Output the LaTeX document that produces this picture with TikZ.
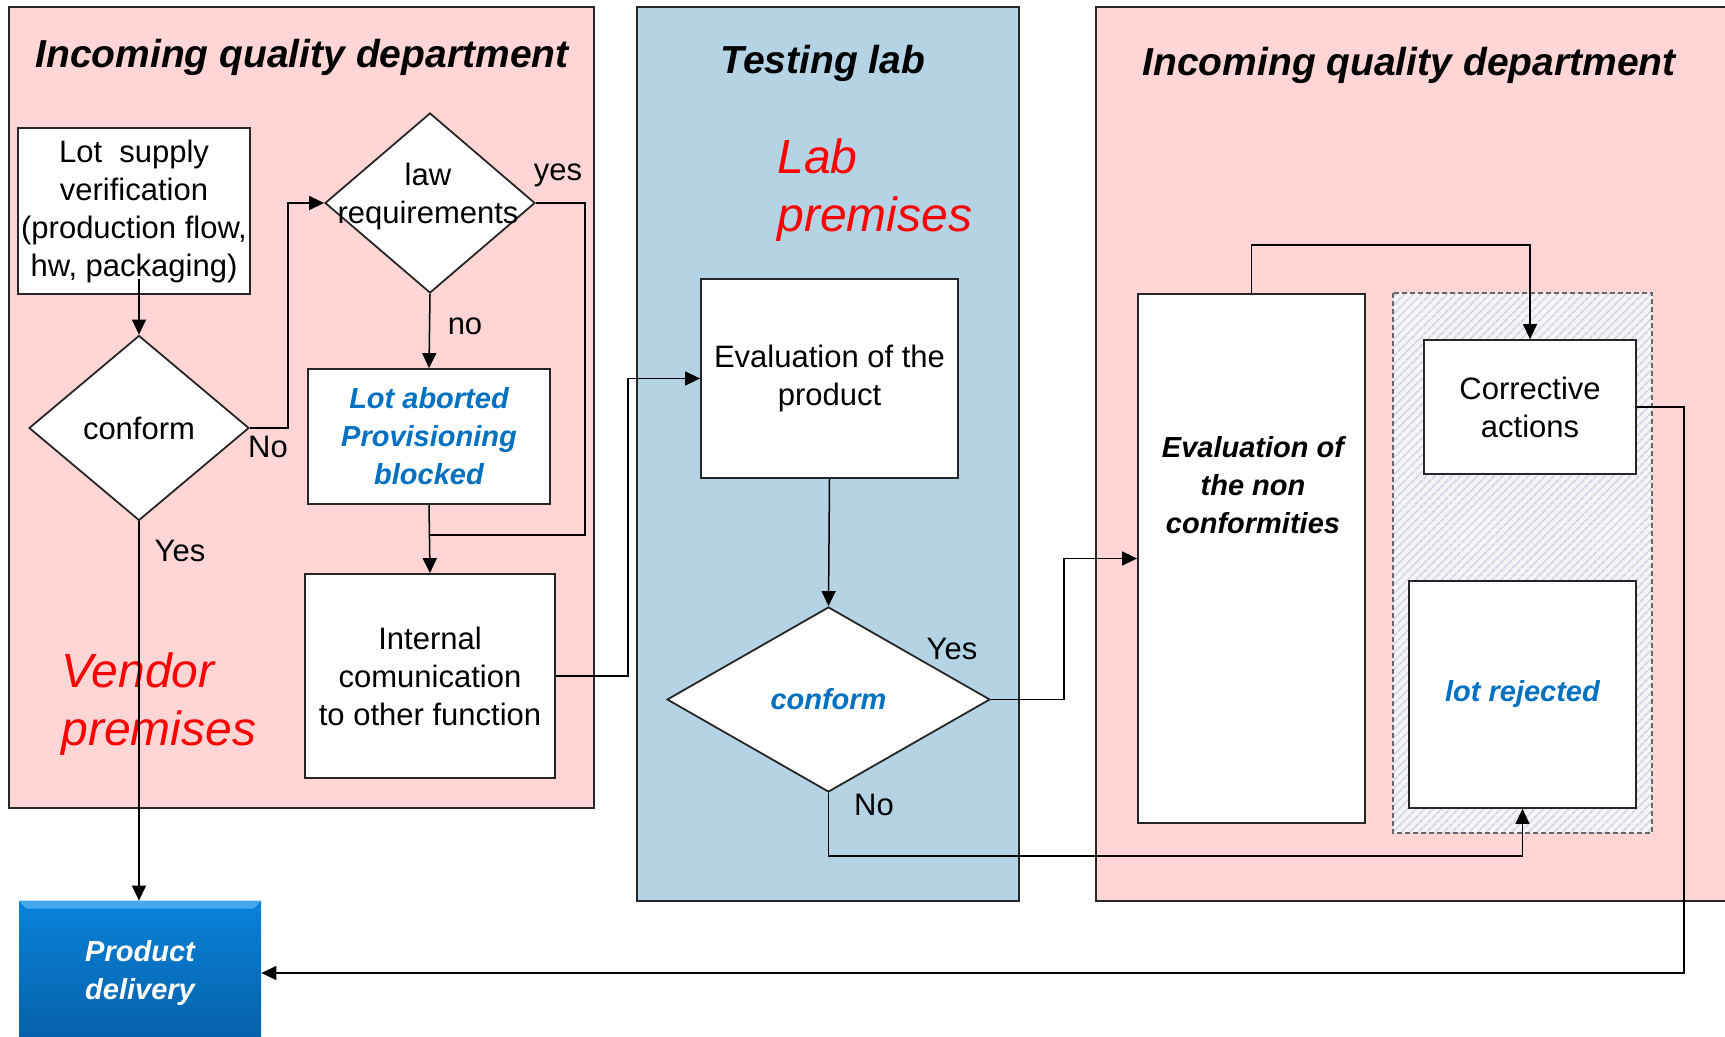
\documentclass[tikz,border=0pt]{standalone}
\usepackage{fontspec}
\setmainfont{Liberation Sans}
\usepackage{tikz}
\usetikzlibrary{arrows.meta,positioning,calc,shapes.geometric,patterns.meta}
\definecolor{cPink}{HTML}{FFD5D5}
\definecolor{cLab}{HTML}{B4D4E6}
\definecolor{cBlue}{HTML}{0070C0}
\definecolor{cHatch}{HTML}{D0D4E4}
\definecolor{cHatchBg}{HTML}{F5F5F8}
\definecolor{cDelTop}{HTML}{0A82DA}
\definecolor{cDelBot}{HTML}{0560A6}
\definecolor{cBevel}{HTML}{45A8EE}
\newcommand{\bodyfont}{\fontsize{15.5}{19}\selectfont}
\newcommand{\headfont}{\fontsize{19.5}{23}\selectfont\bfseries\itshape}
\newcommand{\emfont}{\fontsize{14.5}{19}\selectfont\bfseries\itshape}
\newcommand{\zonefont}{\fontsize{24}{29}\selectfont\itshape}
\tikzset{
  lane/.style={draw=black!85,line width=1pt},
  proc/.style={draw=black!85,fill=white,line width=0.9pt,inner sep=0pt,
               align=center,font=\bodyfont},
  decide/.style={diamond,draw=black!85,fill=white,line width=0.9pt,inner sep=0pt},
  txt/.style={inner sep=0pt,align=center,font=\bodyfont},
  emtxt/.style={inner sep=0pt,align=center,font=\emfont,text=cBlue},
  head/.style={inner sep=0pt,font=\headfont},
  zone/.style={inner sep=0pt,align=left,font=\zonefont,text=red},
  hatchbox/.style={draw=black!60,line width=0.6pt,dash pattern=on 2.5pt off 1.5pt,
               preaction={fill=cHatchBg},
               pattern={Lines[angle=45,distance=3pt,line width=0.8pt]},pattern color=cHatch},
  delivery/.style={top color=cDelTop,bottom color=cDelBot,inner sep=0pt,
               align=center,font=\emfont,text=white},
  flow/.style={-{Triangle[length=7.5pt,width=7pt]},line width=0.75pt},
  link/.style={line width=0.75pt},
}

\begin{document}
\begin{tikzpicture}[x=0.5pt,y=-0.5pt]
  \useasboundingbox (0,0) rectangle (1725,1037);
  \clip (0,0) rectangle (1725,1037);
  \fill[white] (0,0) rectangle (1725,1037);
  % swim lanes
  \draw[lane,fill=cPink] (9,7) rectangle (594,808);
  \draw[lane,fill=cLab] (637,7) rectangle (1019,901);
  \draw[lane,fill=cPink] (1096,7) rectangle (1760,901);
  \node[head] (qtitleA) at (302,57) {Incoming quality department};
  \node[head] (labtitle) at (823,63) {Testing lab};
  \node[head] (qtitleB) at (1409,65) {Incoming quality department};
  \node[zone,anchor=west] (vendor) at (61,704) {Vendor\\premises};
  \node[zone,anchor=west] (labzone) at (777,190) {Lab\\premises};
  \draw[hatchbox] (1393,293) rectangle (1652,833);

  % vendor side
  \node[proc,minimum width=116pt,minimum height=83pt] (lot) at (134,211)
    {Lot~~supply\\verification\\(production flow,\\hw, packaging)};
  \node[decide,minimum width=105pt,minimum height=90pt] (law) at (430,203) {};
  \node[txt] (lawtxt) at (428,196) {law\\requirements};
  \node[decide,minimum width=110pt,minimum height=92.5pt] (chk) at (139,428) {};
  \node[txt] (chktxt) at (chk) {conform};
  \node[proc,font=\emfont,text=cBlue,minimum width=121pt,minimum height=67.5pt]
    (abort) at (429,436.5) {Lot aborted\\Provisioning\\blocked};
  \node[proc,minimum width=125pt,minimum height=102pt] (inform) at (430,676)
    {Internal\\comunication\\to other function};
  \node[delivery,minimum width=121pt,minimum height=72pt] (deliv) at (140,973) {};
  \fill[cBevel] (deliv.north west) -- (deliv.north east)
    -- ([xshift=-4pt,yshift=-4pt]deliv.north east)
    -- ([xshift=4pt,yshift=-4pt]deliv.north west) -- cycle;
  \node[txt,font=\emfont,text=white] (delivtxt) at (deliv) {Product\\delivery};

  % lab
  \node[proc,minimum width=128.5pt,minimum height=99.5pt] (evalp) at (829.5,378.5)
    {Evaluation of the\\product};
  \node[decide,minimum width=161.5pt,minimum height=92.5pt] (labchk) at (828.5,699.5) {};
  \node[emtxt] (labchktxt) at (labchk) {conform};

  % quality department
  \node[proc,minimum width=113.5pt,minimum height=264.5pt] (evalnc) at (1251.5,558.5) {};
  \node[txt,font=\emfont] (evalnctxt) at (1253,485) {Evaluation of\\the non\\conformities};
  \node[proc,minimum width=106pt,minimum height=67pt] (corr) at (1530,407)
    {Corrective\\actions};
  \node[proc,font=\emfont,text=cBlue,minimum width=113.5pt,minimum height=113.5pt]
    (reject) at (1522.5,694.5) {lot rejected};

  % labels
  \node[txt] (lyes) at (558,175) {yes};
  \node[txt] (lno) at (465,326) {no};
  \node[txt] (cno) at (268,447) {No};
  \node[txt] (cyes) at (180,551) {Yes};
  \node[txt] (tyes) at (952,649) {Yes};
  \node[txt] (tno) at (874,805) {No};

  % connectors
  \draw[flow] ($(lot.south -| chk.north)+(0,-16)$) -- (chk.north);
  \draw[flow] (chk.east) -- ++(38,0) |- (law.west);
  \draw[flow] (law.south) -- (abort.north);
  \coordinate (merge) at ($(abort.south)+(0,30)$);
  \draw[link] (law.east) -- ++(49,0) |- (merge);
  \draw[flow] (abort.south) -- (inform.north);
  \draw[flow] (chk.south) -- (chk.south |- deliv.north);
  \draw[flow] (inform.east) -- ++(72,0) |- (evalp.west);
  \draw[flow] (evalp.south) -- (labchk.north);
  \draw[flow] (labchk.east) -- ++(73,0) |- (evalnc.west);
  \draw[flow] (labchk.south) -- ++(0,63) -| (reject.south);
  \draw[flow] (evalnc.north) -- ++(0,-48) -| (corr.north);
  \draw[flow] (corr.east) -- ++(47,0) |- (deliv.east);
\end{tikzpicture}
\end{document}
